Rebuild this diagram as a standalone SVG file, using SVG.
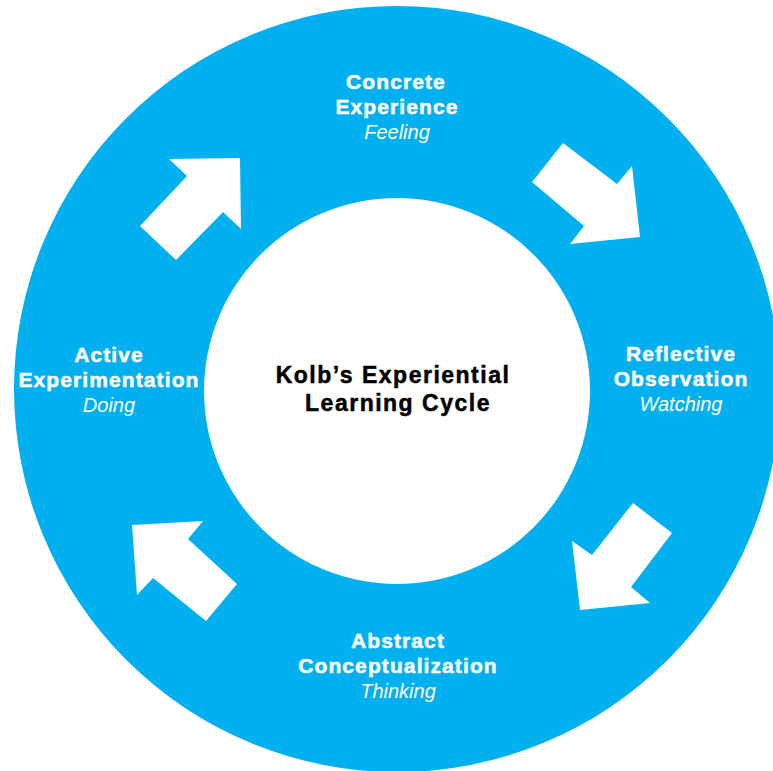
<svg xmlns="http://www.w3.org/2000/svg" width="773" height="771" viewBox="0 0 773 771">
  <style>
    .ring { fill: #02B0F0; }
    .hub { fill: #FFFFFF; }
    .arrow { fill: #FFFFFF; }
    .stage { font-family: "Liberation Sans", Arial, sans-serif; font-size: 21px; font-weight: bold; fill: #FFFFFF; stroke: #FFFFFF; stroke-width: 0.5px; text-anchor: middle; letter-spacing: 1.1px; }
    .mode { font-family: "Liberation Sans", Arial, sans-serif; font-size: 20px; font-style: italic; fill: #FFFFFF; text-anchor: middle; }
    .title { font-family: "Liberation Sans", Arial, sans-serif; font-size: 23px; font-weight: bold; fill: #000000; stroke: #000000; stroke-width: 0.5px; text-anchor: middle; letter-spacing: 1.5px; }
  </style>

  <!-- outer ring -->
  <circle class="ring" cx="397" cy="389" r="383"/>

  <!-- centre -->
  <g id="center">
    <circle class="hub" cx="397" cy="391" r="193"/>
    <text class="title" x="393" y="383">Kolb’s Experiential</text>
    <text class="title" x="398" y="411">Learning Cycle</text>
  </g>

  <g id="concrete-experience">
    <text class="stage" x="396" y="89">Concrete</text>
    <text class="stage" x="397" y="114">Experience</text>
    <text class="mode" x="397" y="139">Feeling</text>
  </g>

  <g id="reflective-observation">
    <text class="stage" x="681" y="361">Reflective</text>
    <text class="stage" x="681" y="386">Observation</text>
    <text class="mode" x="681" y="411">Watching</text>
  </g>

  <g id="abstract-conceptualization">
    <text class="stage" x="398" y="648">Abstract</text>
    <text class="stage" x="398" y="673">Conceptualization</text>
    <text class="mode" x="398" y="698">Thinking</text>
  </g>

  <g id="active-experimentation">
    <text class="stage" x="109" y="362">Active</text>
    <text class="stage" x="109" y="387">Experimentation</text>
    <text class="mode" x="109" y="412">Doing</text>
  </g>

  <!-- cycle arrows -->
  <g id="connectors">
    <polygon class="arrow" points="563,143 617,184 632,166 640,237 570,244 584,226 532,182"/>
    <polygon class="arrow" points="633,503 672,533 631,587 650,603 580,610 572,541 592,555"/>
    <polygon class="arrow" points="237,584 206,621 153,578 137,595 132,525 203,521 188,539"/>
    <polygon class="arrow" points="140,226 176,260 223,212 241,229 240,158 169,159 187,176"/>
  </g>
</svg>
